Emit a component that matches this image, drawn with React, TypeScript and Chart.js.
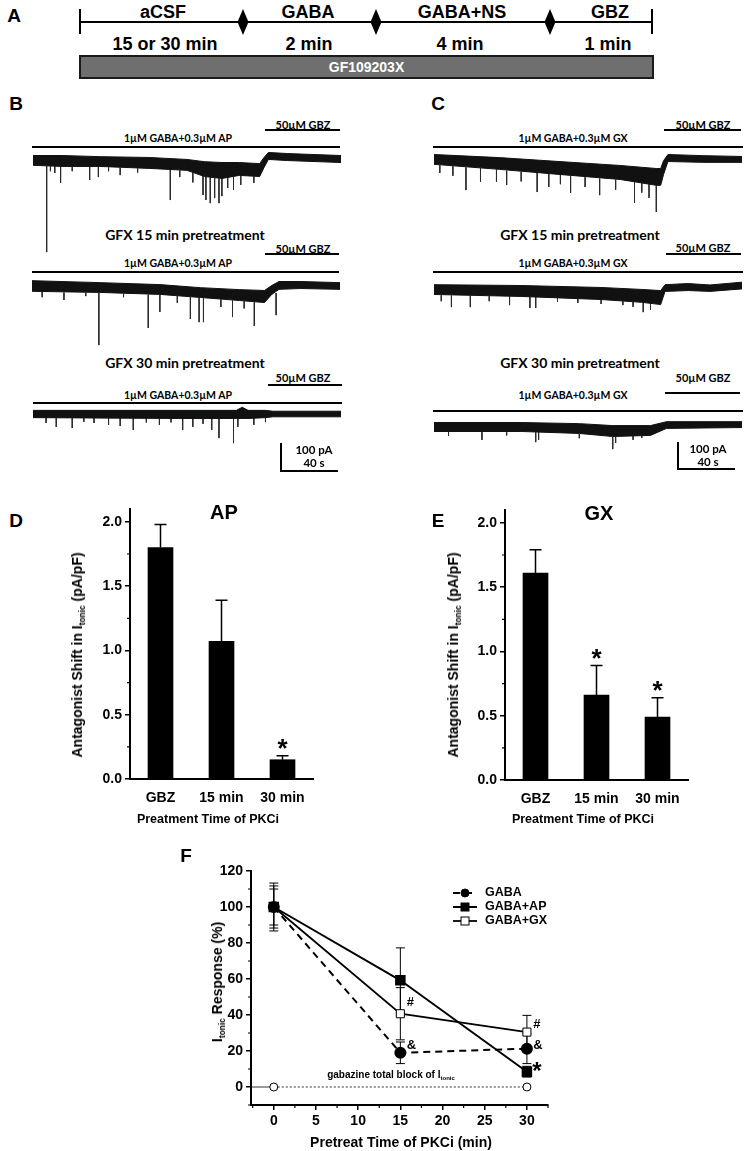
import React, { useEffect, useRef } from 'react';
import { Chart, registerables } from 'chart.js';

Chart.register(...registerables);

const ARIAL = '"Liberation Sans", Arial, Helvetica, sans-serif';
const LATO = 'Lato, "Open Sans", sans-serif';

/* ---------------- Panel A : protocol ---------------- */
const protocolSteps = ['aCSF', 'GABA', 'GABA+NS', 'GBZ'];
const protocolDurations = ['15 or 30 min', '2 min', '4 min', '1 min'];
const pretreatDrug = 'GF109203X';

/* ---------------- Panels B, C : traces (time in s, current in pA) ---------------- */
const apDrugLabel = '1\u00B5M GABA+0.3\u00B5M AP';
const gxDrugLabel = '1\u00B5M GABA+0.3\u00B5M GX';
const gbzLabel = '50\u00B5M GBZ';
const pretreatLabels = ['GFX 15 min pretreatment', 'GFX 30 min pretreatment'];
const scaleBarLabels = ['100 pA', '40 s'];

const b1Time = [0, 20, 46, 80, 106, 118, 130, 142, 156, 159, 162, 175, 212];
const b1Upper = [16, 16, 12, 9, 2, -6, -9, -9, -13, 9, 27, 23, 16];
const b1Lower = [-19, -23, -23, -30, -37, -59, -66, -55, -59, -27, 2, -2, -9];
const b1Spikes = [
  [9.4, -21, -329], [12, -22, -40], [15, -22, -46], [19, -22, -82], [27, -24, -40], [39, -25, -71],
  [45, -25, -61], [52, -27, -40], [60, -28, -54], [72, -30, -45], [94.5, -35, -143], [101, -37, -61],
  [110, -45, -80], [117, -55, -125], [119, -58, -143], [122, -62, -154], [125, -64, -136],
  [128, -66, -154], [130, -66, -129], [134, -64, -100], [138, -60, -107], [143, -57, -89], [152, -59, -82],
];

const b2Time = [0, 47, 88, 116, 143, 160, 165, 170, 185, 212];
const b2Upper = [19, 12, 5, -6, -13, -16, 2, 16, 16, 12];
const b2Lower = [-19, -23, -30, -41, -52, -59, -30, -12, -9, -12];
const b2Spikes = [
  [7, -21, -40], [22, -23, -50], [37, -24, -36], [46, -25, -211], [63, -28, -40], [80, -31, -150],
  [88, -32, -93], [100, -36, -60], [109, -40, -118], [115, -43, -129], [118, -44, -129],
  [130, -48, -75], [138, -52, -111], [146, -55, -80], [153, -58, -143], [168, -25, -104],
];

const b3Time = [0, 100, 140, 144, 148, 160, 165, 212];
const b3Upper = [13, 13, 13, 24, 13, 13, 10, 10];
const b3Lower = [-13, -16, -16, -16, -16, -13, -10, -10];
const b3Spikes = [
  [9, -14, -32], [16, -14, -46], [27, -14, -50], [35, -14, -28], [42, -14, -32], [52, -14, -39],
  [60, -14, -43], [69, -14, -57], [78, -14, -30], [87, -14, -39], [95, -14, -30], [103, -14, -57],
  [110, -14, -46], [117, -14, -35], [123, -14, -57], [128, -14, -86], [138, -14, -104],
  [141, -14, -46], [152, -14, -39], [160, -14, -29],
];

const c1Time = [0, 45, 86, 128, 153, 156, 158, 161, 185, 212];
const c1Upper = [16, 5, -9, -23, -34, -34, -6, 16, 12, 9];
const c1Lower = [-19, -37, -55, -73, -94, -94, -55, -9, -12, -12];
const c1Spikes = [
  [4, -22, -50], [13, -26, -60], [22, -30, -111], [32, -33, -82], [43, -38, -82], [50, -42, -93],
  [60, -46, -80], [71, -50, -118], [79, -54, -100], [87, -57, -90], [94, -61, -121], [104, -65, -100],
  [114, -70, -129], [125, -74, -110], [138, -80, -157], [143, -84, -120], [148, -90, -139], [153, -94, -189],
];

const c2Time = [0, 60, 115, 143, 156, 159, 175, 190, 212];
const c2Upper = [19, 16, 9, 2, -2, 19, 23, 18, 28];
const c2Lower = [-16, -23, -34, -44, -52, -5, -2, -5, 4];
const c2Spikes = [
  [5, -19, -40], [12, -20, -61], [25, -21, -61], [38, -22, -40], [52, -23, -54], [66, -24, -64],
  [70, -25, -64], [85, -28, -42], [99, -30, -46], [115, -36, -50], [130, -40, -54], [137, -43, -60],
  [144, -46, -79], [149, -48, -71],
];

const c3Time = [0, 60, 100, 123, 149, 160, 212];
const c3Upper = [16, 16, 12, 5, 5, 19, 19];
const c3Lower = [-16, -16, -23, -34, -30, -5, -2];
const c3Spikes = [
  [10, -18, -32], [33, -18, -46], [50, -18, -30], [70, -18, -54], [72, -18, -46], [100, -25, -40],
  [123, -36, -79], [125, -36, -57], [137, -32, -46], [143, -32, -39],
];

/* ---------------- Panels D, E : bar charts ---------------- */
const barCategories = ['GBZ', '15 min', '30 min'];
const barTicks = [0, 0.5, 1.0, 1.5, 2.0];
const apShift = [1.80, 1.07, 0.15];
const apShiftErr = [0.18, 0.32, 0.03];
const apStars = ['', '', '*'];
const gxShift = [1.61, 0.66, 0.49];
const gxShiftErr = [0.18, 0.23, 0.15];
const gxStars = ['', '*', '*'];

/* ---------------- Panel F : line chart ---------------- */
const pretreatTimes = [0, 15, 30];
const gabaResp = [100, 19, 21.3];
const gabaErr = [13.3, 6, 8.3];
const apResp = [100, 59.3, 8.5];
const apErr = [10, 18, 3];
const gxResp = [100, 40.7, 30.5];
const gxErr = [11.7, 14.5, 9.3];
const gabazineTimes = [0, 30];
const gabazineResp = [0, 0];
const fXTicks = [0, 5, 10, 15, 20, 25, 30];
const fYTicks = [0, 20, 40, 60, 80, 100, 120];
const fMarkTimes = [15, 15, 30, 30, 30];
const fMarkValues = [47, 23, 35, 23, 11];
const fMarkTexts = ['#', '&', '#', '&', '*'];

/* ---------------- plugins ---------------- */
const errorBarPlugin = {
  id: 'errorBars',
  beforeDatasetsDraw(chart: any) {
    const ctx = chart.ctx;
    const yScale = chart.scales.y;
    chart.data.datasets.forEach((ds: any, di: number) => {
      const errs = ds.errorBars;
      if (!errs) return;
      const meta = chart.getDatasetMeta(di);
      meta.data.forEach((el: any, i: number) => {
        const raw = ds.data[i];
        const v = typeof raw === 'number' ? raw : raw.y;
        const e = errs[i];
        if (e == null) return;
        const x = el.x;
        const yTop = yScale.getPixelForValue(v + e);
        const yBot = yScale.getPixelForValue(ds.errorMode === 'up' ? v : v - e);
        const cw = ds.errorCap ?? 4.5;
        ctx.save();
        ctx.strokeStyle = '#000';
        ctx.lineWidth = ds.errorLineWidth ?? 1;
        ctx.beginPath();
        ctx.moveTo(x, yTop);
        ctx.lineTo(x, yBot);
        ctx.moveTo(x - cw, yTop);
        ctx.lineTo(x + cw, yTop);
        if (ds.errorMode !== 'up') {
          ctx.moveTo(x - cw, yBot);
          ctx.lineTo(x + cw, yBot);
        }
        ctx.stroke();
        ctx.restore();
      });
    });
  },
};

const minorTickPlugin = {
  id: 'minorTicks',
  afterDraw(chart: any, _a: any, opts: any) {
    const ctx = chart.ctx;
    ['x', 'y'].forEach((key) => {
      const o = opts && opts[key];
      if (!o) return;
      const s = chart.scales[key];
      ctx.save();
      ctx.strokeStyle = '#000';
      ctx.lineWidth = o.width ?? 1.2;
      ctx.beginPath();
      for (let v = Math.ceil(s.min / o.step - 1e-9) * o.step; v <= s.max + 1e-9; v += o.step) {
        const r = v / o.major;
        if (Math.abs(r - Math.round(r)) < 1e-6) continue;
        const p = s.getPixelForValue(v);
        if (key === 'y') {
          ctx.moveTo(s.right - o.len, p);
          ctx.lineTo(s.right, p);
        } else {
          ctx.moveTo(p, s.top);
          ctx.lineTo(p, s.top + o.len);
        }
      }
      ctx.stroke();
      ctx.restore();
    });
  },
};

const textMarkPlugin = {
  id: 'textMarks',
  afterDatasetsDraw(chart: any, _a: any, opts: any) {
    const ctx = chart.ctx;
    (opts.items || []).forEach((it: any) => {
      const x = chart.scales.x.getPixelForValue(it.x) + (it.dx || 0);
      const y = chart.scales.y.getPixelForValue(it.y) + (it.dy || 0);
      ctx.save();
      ctx.font = it.font;
      ctx.fillStyle = '#000';
      ctx.textAlign = it.align || 'center';
      ctx.textBaseline = 'middle';
      ctx.fillText(it.text, x, y);
      ctx.restore();
    });
  },
};

const seriesLegendPlugin = {
  id: 'seriesLegend',
  afterDatasetsDraw(chart: any, _a: any, opts: any) {
    const { ctx, chartArea } = chart;
    const x0 = chartArea.right + opts.dx;
    let y = chartArea.top + opts.dy;
    opts.order.forEach((di: number) => {
      const ds = chart.data.datasets[di];
      ctx.save();
      ctx.strokeStyle = '#000';
      ctx.lineWidth = ds.borderWidth;
      ctx.setLineDash(ds.borderDash || []);
      ctx.beginPath();
      ctx.moveTo(x0, y);
      ctx.lineTo(x0 + opts.lineLen, y);
      ctx.stroke();
      ctx.setLineDash([]);
      const cx = x0 + opts.lineLen / 2;
      ctx.fillStyle = ds.pointBackgroundColor;
      ctx.lineWidth = 1;
      const m = opts.marker;
      if (ds.pointStyle === 'rect') {
        ctx.fillRect(cx - m, y - m, 2 * m, 2 * m);
        ctx.strokeRect(cx - m, y - m, 2 * m, 2 * m);
      } else {
        ctx.beginPath();
        ctx.arc(cx, y, m, 0, Math.PI * 2);
        ctx.fill();
        ctx.stroke();
      }
      ctx.fillStyle = '#000';
      ctx.font = opts.font;
      ctx.textAlign = 'left';
      ctx.textBaseline = 'middle';
      ctx.fillText(ds.label, x0 + opts.lineLen + opts.gap, y);
      ctx.restore();
      y += opts.rowGap;
    });
  },
};

/* ---------------- configs ---------------- */
const PX_PER_PA = 0.28;
const PX_PER_S = 1.453;

function traceConfig(time: number[], upper: number[], lower: number[], spikes: number[][], w: number, h: number, base: number) {
  const yMax = base / PX_PER_PA;
  const yMin = -(h - base) / PX_PER_PA;
  const spikePts: any[] = [];
  spikes.forEach(([t, from, to]) => {
    spikePts.push({ x: t, y: from }, { x: t, y: to }, { x: t, y: null });
  });
  return {
    type: 'line',
    data: {
      datasets: [
        { data: time.map((t, i) => ({ x: t, y: upper[i] })), borderColor: '#111', backgroundColor: '#111', borderWidth: 1, fill: '+1', pointRadius: 0, tension: 0 },
        { data: time.map((t, i) => ({ x: t, y: lower[i] })), borderColor: '#111', borderWidth: 1, fill: false, pointRadius: 0, tension: 0 },
        { data: spikePts, borderColor: '#2b2b2b', borderWidth: 1, fill: false, pointRadius: 0, spanGaps: false },
      ],
    },
    options: {
      animation: false,
      responsive: false,
      events: [],
      layout: { padding: 0 },
      scales: {
        x: { type: 'linear', display: false, min: 0, max: w / PX_PER_S },
        y: { type: 'linear', display: false, min: yMin, max: yMax },
      },
      plugins: { legend: { display: false }, tooltip: { enabled: false } },
    },
  };
}

function barConfig(values: number[], errs: number[], stars: string[]) {
  const marks: any[] = [];
  stars.forEach((s, i) => {
    if (s) marks.push({ x: i, y: values[i] + errs[i], text: s, dy: -6, font: `bold 26px ${ARIAL}` });
  });
  return {
    type: 'bar',
    data: {
      labels: barCategories,
      datasets: [{
        data: values, backgroundColor: '#000', borderColor: '#000', borderWidth: 0, barThickness: 25,
        errorBars: errs, errorMode: 'up', errorCap: 6, errorLineWidth: 1.5,
      }],
    },
    options: {
      animation: false,
      responsive: false,
      events: [],
      layout: { padding: { top: 14, right: 22, left: 0, bottom: 0 } },
      scales: {
        x: {
          grid: { display: false, drawTicks: false },
          border: { display: true, color: '#000', width: 2 },
          ticks: { color: '#000', font: { family: ARIAL, size: 14, weight: 'bold' }, padding: 11, maxRotation: 0, autoSkip: false },
          afterFit: (s: any) => { s.height = 46; },
        },
        y: {
          min: 0, max: 2.1,
          afterBuildTicks: (s: any) => { s.ticks = barTicks.map((v) => ({ value: v })); },
          grid: { drawOnChartArea: false, tickLength: 5, color: '#000', lineWidth: 1.5 },
          border: { display: true, color: '#000', width: 2 },
          ticks: { color: '#000', font: { family: ARIAL, size: 14, weight: 'bold' }, padding: 3, callback: (v: any) => Number(v).toFixed(1) },
          afterFit: (s: any) => { s.width = 70; },
        },
      },
      plugins: {
        legend: { display: false },
        tooltip: { enabled: false },
        minorTicks: { y: { step: 0.25, major: 0.5, len: 3 } },
        textMarks: { items: marks },
      },
    },
    plugins: [errorBarPlugin, minorTickPlugin, textMarkPlugin],
  };
}

const F_X_MIN = -2.7;
const F_X_MAX = 32.5;

function responseConfig() {
  const pts = (vals: number[]) => pretreatTimes.map((t, i) => ({ x: t, y: vals[i] }));
  const gbzPts = [{ x: F_X_MIN, y: gabazineResp[0] }, ...gabazineTimes.map((t, i) => ({ x: t, y: gabazineResp[i] }))];
  const marks = fMarkTexts.map((t, i) => ({
    x: fMarkTimes[i], y: fMarkValues[i], text: t, dx: t === '&' ? 11 : 10,
    dy: t === '*' ? 5 : 0,
    font: t === '*' ? `bold 24px ${ARIAL}` : `bold 13px ${ARIAL}`,
  }));
  return {
    type: 'line',
    data: {
      datasets: [
        { label: 'GABA+AP', data: pts(apResp), errorBars: apErr, borderColor: '#000', borderWidth: 2, pointStyle: 'rect', pointRadius: 6, pointBackgroundColor: '#000', pointBorderColor: '#000', order: 0, tension: 0 },
        { label: 'GABA+GX', data: pts(gxResp), errorBars: gxErr, borderColor: '#000', borderWidth: 1.8, pointStyle: 'rect', pointRadius: 5.7, pointBackgroundColor: '#fff', pointBorderColor: '#000', pointBorderWidth: 1, order: 1, tension: 0 },
        { label: 'GABA', data: pts(gabaResp), errorBars: gabaErr, borderColor: '#000', borderWidth: 2, borderDash: [7, 5], pointStyle: 'circle', pointRadius: 5, pointBackgroundColor: '#000', pointBorderColor: '#000', order: 2, tension: 0 },
        {
          label: 'gabazine', data: gbzPts, borderColor: '#000', borderWidth: 0.8,
          pointStyle: 'circle', pointRadius: (c: any) => (c.dataIndex === 0 ? 0 : 4), pointBackgroundColor: '#fff', pointBorderColor: '#000', pointBorderWidth: 1,
          segment: { borderDash: (c: any) => (c.p0DataIndex === 0 ? [] : [2, 2]) },
          order: 3,
        },
      ],
    },
    options: {
      animation: false,
      responsive: false,
      events: [],
      layout: { padding: { top: 21, right: 22, left: 0, bottom: 0 } },
      scales: {
        x: {
          type: 'linear', min: F_X_MIN, max: F_X_MAX,
          afterBuildTicks: (s: any) => { s.ticks = fXTicks.map((v) => ({ value: v })); },
          grid: { drawOnChartArea: false, tickLength: 5, color: '#000', lineWidth: 1.5 },
          border: { display: true, color: '#000', width: 2 },
          ticks: { color: '#000', font: { family: ARIAL, size: 14, weight: 'bold' }, padding: 3, maxRotation: 0 },
          afterFit: (s: any) => { s.height = 46; },
        },
        y: {
          type: 'linear', min: -10, max: 120,
          afterBuildTicks: (s: any) => { s.ticks = fYTicks.map((v) => ({ value: v })); },
          grid: { drawOnChartArea: false, tickLength: 5, color: '#000', lineWidth: 1.5 },
          border: { display: true, color: '#000', width: 2 },
          ticks: { color: '#000', font: { family: ARIAL, size: 14, weight: 'bold' }, padding: 3 },
          afterFit: (s: any) => { s.width = 81; },
        },
      },
      plugins: {
        legend: { display: false },
        tooltip: { enabled: false },
        minorTicks: { x: { step: 2.5, major: 5, len: 3 }, y: { step: 10, major: 20, len: 3 } },
        textMarks: { items: marks },
        seriesLegend: { dx: -95, dy: 22, lineLen: 24, gap: 8, rowGap: 14, marker: 4, order: [2, 0, 1], font: `bold 12.5px ${ARIAL}` },
      },
    },
    plugins: [errorBarPlugin, minorTickPlugin, textMarkPlugin, seriesLegendPlugin],
  };
}

/* ---------------- components ---------------- */
function ChartBox({ left, top, width, height, make }: any) {
  const ref = useRef<HTMLCanvasElement>(null);
  useEffect(() => {
    const chart = new Chart(ref.current as HTMLCanvasElement, make() as any);
    return () => chart.destroy();
  }, []);
  return <canvas ref={ref} width={width} height={height} style={{ position: 'absolute', left, top, width, height }} />;
}

function Txt({ x, y, size, weight = 400, family = ARIAL, color = '#000', rotate = 0, children }: any) {
  return (
    <div style={{
      position: 'absolute', left: x, top: y,
      transform: `translate(-50%, -50%)${rotate ? ` rotate(${rotate}deg)` : ''}`,
      fontFamily: family, fontSize: size, fontWeight: weight, lineHeight: 1, whiteSpace: 'nowrap', color,
    }}>{children}</div>
  );
}

function HLine({ x1, x2, y, th = 2 }: any) {
  return <div style={{ position: 'absolute', left: x1, top: y - th / 2, width: x2 - x1, height: th, background: '#000' }} />;
}
function VLine({ x, y1, y2, th = 2 }: any) {
  return <div style={{ position: 'absolute', left: x - th / 2, top: y1, width: th, height: y2 - y1, background: '#000' }} />;
}

const Sub = ({ children }: any) => (
  <span style={{ fontSize: '0.6em', position: 'relative', top: '0.35em' }}>{children}</span>
);

function PanelA() {
  const stepX = [163, 308, 462, 610];
  const durX = [165, 309, 460, 608];
  const diamondX = [243, 376, 550];
  return (
    <>
      <Txt x={14} y={15} size={19} weight={700}>A</Txt>
      <HLine x1={79} x2={653} y={22} th={2.5} />
      <VLine x={80} y1={9} y2={34} th={2.5} />
      <VLine x={652} y1={9} y2={34} th={2.5} />
      {diamondX.map((x) => (
        <div key={x} style={{ position: 'absolute', left: x - 5.5, top: 9, width: 11, height: 26, background: '#000', clipPath: 'polygon(50% 0, 100% 50%, 50% 100%, 0 50%)' }} />
      ))}
      {protocolSteps.map((s, i) => <Txt key={s} x={stepX[i]} y={12} size={18} weight={700}>{s}</Txt>)}
      {protocolDurations.map((s, i) => <Txt key={s} x={durX[i]} y={44} size={18} weight={700}>{s}</Txt>)}
      <div style={{
        position: 'absolute', left: 79, top: 55, width: 575, height: 24, boxSizing: 'border-box',
        background: '#6f6f6f', border: '2px solid #1a1a1a', color: '#fff', fontFamily: ARIAL, fontWeight: 700, fontSize: 14,
        display: 'flex', alignItems: 'center', justifyContent: 'center',
      }}>{pretreatDrug}</div>
    </>
  );
}

function TracePanel({ letter, letterX, drug, traces, gbzRows, drugRows, headX, gbzX, drugX, scale }: any) {
  return (
    <>
      <Txt x={letterX} y={103} size={19} weight={700}>{letter}</Txt>
      {gbzRows.map((r: any, i: number) => (
        <React.Fragment key={'g' + i}>
          <Txt x={gbzX} y={r.ty} size={11} weight={700} family={LATO}>{gbzLabel}</Txt>
          <HLine x1={r.x1} x2={r.x2} y={r.ly} />
        </React.Fragment>
      ))}
      {drugRows.map((r: any, i: number) => (
        <React.Fragment key={'d' + i}>
          <Txt x={drugX} y={r.ty} size={10.5} weight={700} family={LATO}>{drug}</Txt>
          <HLine x1={r.x1} x2={r.x2} y={r.ly} />
        </React.Fragment>
      ))}
      <Txt x={headX} y={235} size={14} weight={700} family={LATO}>{pretreatLabels[0]}</Txt>
      <Txt x={headX} y={363} size={14} weight={700} family={LATO}>{pretreatLabels[1]}</Txt>
      {traces.map((t: any, i: number) => (
        <ChartBox key={'t' + i} left={t.left} top={t.top} width={t.w} height={t.h}
          make={() => traceConfig(t.time, t.upper, t.lower, t.spikes, t.w, t.h, t.base)} />
      ))}
      <VLine x={scale.x} y1={scale.y1} y2={scale.y2} />
      <HLine x1={scale.x - 1} x2={scale.x2} y={scale.y2 - 1} />
      <Txt x={scale.tx} y={scale.y1 + 7} size={11.5} weight={700} family={LATO}>{scaleBarLabels[0]}</Txt>
      <Txt x={scale.tx} y={scale.y1 + 20} size={11.5} weight={700} family={LATO}>{scaleBarLabels[1]}</Txt>
    </>
  );
}

export default function App() {
  useEffect(() => {
    document.body.style.margin = '0';
    document.body.style.background = '#fff';
  }, []);

  const bTraces = [
    { left: 33, top: 148, w: 308, h: 110, base: 12, time: b1Time, upper: b1Upper, lower: b1Lower, spikes: b1Spikes },
    { left: 32, top: 274, w: 309, h: 76, base: 12, time: b2Time, upper: b2Upper, lower: b2Lower, spikes: b2Spikes },
    { left: 33, top: 402, w: 310, h: 42, base: 12, time: b3Time, upper: b3Upper, lower: b3Lower, spikes: b3Spikes },
  ];
  const cTraces = [
    { left: 434, top: 148, w: 309, h: 70, base: 11, time: c1Time, upper: c1Upper, lower: c1Lower, spikes: c1Spikes },
    { left: 434, top: 276, w: 309, h: 40, base: 14, time: c2Time, upper: c2Upper, lower: c2Lower, spikes: c2Spikes },
    { left: 434, top: 413, w: 309, h: 45, base: 14, time: c3Time, upper: c3Upper, lower: c3Lower, spikes: c3Spikes },
  ];

  return (
    <div style={{ position: 'absolute', left: 0, top: 0, width: 746, height: 1151, background: '#fff', overflow: 'hidden' }}>
      <PanelA />

      <TracePanel letter="B" letterX={16} drug={apDrugLabel} traces={bTraces}
        gbzX={303} drugX={178} headX={185}
        gbzRows={[{ ty: 124, ly: 130, x1: 265, x2: 340 }, { ty: 248, ly: 254, x1: 265, x2: 339 }, { ty: 377, ly: 385, x1: 268, x2: 342 }]}
        drugRows={[{ ty: 138, ly: 147, x1: 32, x2: 340 }, { ty: 263, ly: 272, x1: 32, x2: 339 }, { ty: 395, ly: 403, x1: 33, x2: 342 }]}
        scale={{ x: 281, y1: 443, y2: 472, x2: 338, tx: 314 }} />

      <TracePanel letter="C" letterX={438} drug={gxDrugLabel} traces={cTraces}
        gbzX={703} drugX={573} headX={580}
        gbzRows={[{ ty: 124, ly: 130, x1: 664, x2: 741 }, { ty: 247, ly: 254, x1: 666, x2: 741 }, { ty: 377, ly: 393, x1: 665, x2: 740 }]}
        drugRows={[{ ty: 138, ly: 147, x1: 433, x2: 743 }, { ty: 263, ly: 272, x1: 433, x2: 743 }, { ty: 395, ly: 411, x1: 433, x2: 743 }]}
        scale={{ x: 678, y1: 442, y2: 470, x2: 735, tx: 708 }} />

      {/* Panel D */}
      <Txt x={16} y={520} size={19} weight={700}>D</Txt>
      <ChartBox left={60} top={495} width={275} height={330} make={() => barConfig(apShift, apShiftErr, apStars)} />
      <Txt x={224} y={512} size={20} weight={700}>AP</Txt>
      <Txt x={77} y={655} size={14} weight={700} rotate={-90}>Antagonist Shift in I<Sub>tonic</Sub> (pA/pF)</Txt>
      <Txt x={208} y={819} size={12.5} weight={700}>Preatment Time of PKCi</Txt>

      {/* Panel E */}
      <Txt x={438} y={520} size={19} weight={700}>E</Txt>
      <ChartBox left={435} top={496} width={275} height={330} make={() => barConfig(gxShift, gxShiftErr, gxStars)} />
      <Txt x={599} y={513} size={20} weight={700}>GX</Txt>
      <Txt x={453} y={655} size={14} weight={700} rotate={-90}>Antagonist Shift in I<Sub>tonic</Sub> (pA/pF)</Txt>
      <Txt x={583} y={819} size={12.5} weight={700}>Preatment Time of PKCi</Txt>

      {/* Panel F */}
      <Txt x={186} y={855} size={19} weight={700}>F</Txt>
      <ChartBox left={170} top={850} width={400} height={301} make={responseConfig} />
      <Txt x={217} y={982} size={14} weight={700} rotate={-90}>I<Sub>tonic</Sub> Response (%)</Txt>
      <Txt x={401} y={1142} size={14} weight={700}>Pretreat Time of PKCi (min)</Txt>
      <Txt x={391} y={1075} size={10} weight={700}>gabazine total block of I<Sub>tonic</Sub></Txt>
    </div>
  );
}
